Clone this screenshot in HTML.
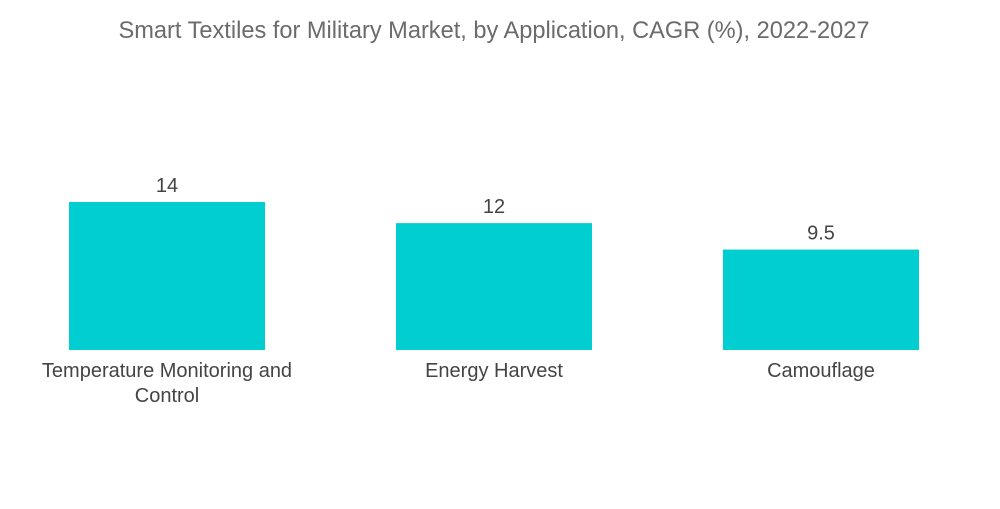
<!DOCTYPE html>
<html><head><meta charset="utf-8"><style>
body{margin:0;background:#fff;font-family:"Liberation Sans",sans-serif}
svg text{font-family:"Liberation Sans",sans-serif}
</style></head><body>
<svg id="chart" width="1000" height="504" xmlns="http://www.w3.org/2000/svg">
<text x="494" y="38" text-anchor="middle" font-size="23.6" fill="#6b6b6b">Smart Textiles for Military Market, by Application, CAGR (%), 2022-2027</text>
<g id="bars"></g>
</svg>
<script>
const categories = [["Temperature Monitoring and","Control"],["Energy Harvest"],["Camouflage"]];
const values = [14, 12, 9.5];
const valueLabels = ["14","12","9.5"];
const svg = document.getElementById('bars');
const NS = 'http://www.w3.org/2000/svg';
const baseY = 350, pxPerUnit = 148/14;
const xStart = 69, step = 327, barW = 196;
function xPos(i){return xStart + i*step;}
function yPos(v){return baseY - v*pxPerUnit;}
values.forEach((v,i)=>{
  const r = document.createElementNS(NS,'rect');
  
  
  r.setAttribute('x', xPos(i)); r.setAttribute('y', yPos(v));
  r.setAttribute('width', barW); r.setAttribute('height', baseY - yPos(v));
  r.setAttribute('fill', '#00ced1');
  svg.appendChild(r);
  const t = document.createElementNS(NS,'text');
  
  
  t.setAttribute('x', xPos(i)+barW/2); t.setAttribute('y', yPos(v)-10);
  t.setAttribute('text-anchor','middle'); t.setAttribute('font-size','20'); t.setAttribute('fill','#444');
  t.textContent = valueLabels[i];
  svg.appendChild(t);
  categories[i].forEach((line,j)=>{
    const c = document.createElementNS(NS,'text');
    
    
    c.setAttribute('x', xPos(i)+barW/2); c.setAttribute('y', 377 + j*25);
    c.setAttribute('text-anchor','middle'); c.setAttribute('font-size','20'); c.setAttribute('fill','#444');
    c.textContent = line;
    svg.appendChild(c);
  });
});
</script>
</body></html>
